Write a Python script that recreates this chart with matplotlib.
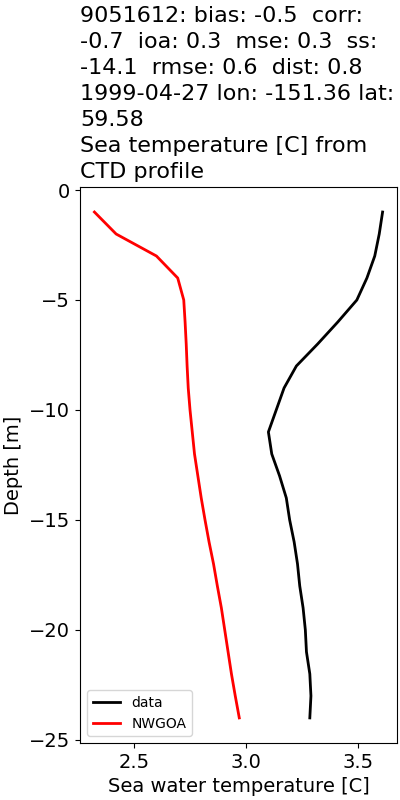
import numpy as np
import matplotlib
matplotlib.use("Agg")
import matplotlib.pyplot as plt

# profile depths [m]
depth = np.arange(1, 25)

# observed CTD temperature
temp_data = [3.61, 3.595, 3.575, 3.54, 3.495, 3.41, 3.32, 3.225, 3.17, 3.135,
             3.10, 3.115, 3.15, 3.18, 3.195, 3.215, 3.23, 3.24, 3.255, 3.265,
             3.27, 3.285, 3.29, 3.285]

# model temperature (NWGOA)
temp_model = [2.323, 2.42, 2.60, 2.695, 2.722, 2.728, 2.733, 2.737, 2.742, 2.75,
              2.76, 2.77, 2.785, 2.80, 2.817, 2.835, 2.855, 2.872, 2.89, 2.905,
              2.92, 2.935, 2.952, 2.97]

title = ("9051612: bias: -0.5  corr:\n-0.7  ioa: 0.3  mse: 0.3  ss:\n"
         "-14.1  rmse: 0.6  dist: 0.8\n1999-04-27 lon: -151.36 lat:\n59.58\n"
         "Sea temperature [C] from\nCTD profile")

fig, ax = plt.subplots(figsize=(4, 8), dpi=100)
fig.subplots_adjust(left=0.2, right=0.9925, bottom=0.071, top=0.7666)

ax.plot(temp_data, -depth, color="black", linewidth=2, label="data")
ax.plot(temp_model, -depth, color="red", linewidth=2, label="NWGOA")

ax.set_xlabel("Sea water temperature [C]", fontsize=14)
ax.set_ylabel("Depth [m]", fontsize=14)
ax.tick_params(labelsize=14)
ax.set_title(title, fontsize=16, loc="left", linespacing=1.38)
ax.legend(loc="lower left", fontsize=10)

fig.savefig("out.png", dpi=100)
